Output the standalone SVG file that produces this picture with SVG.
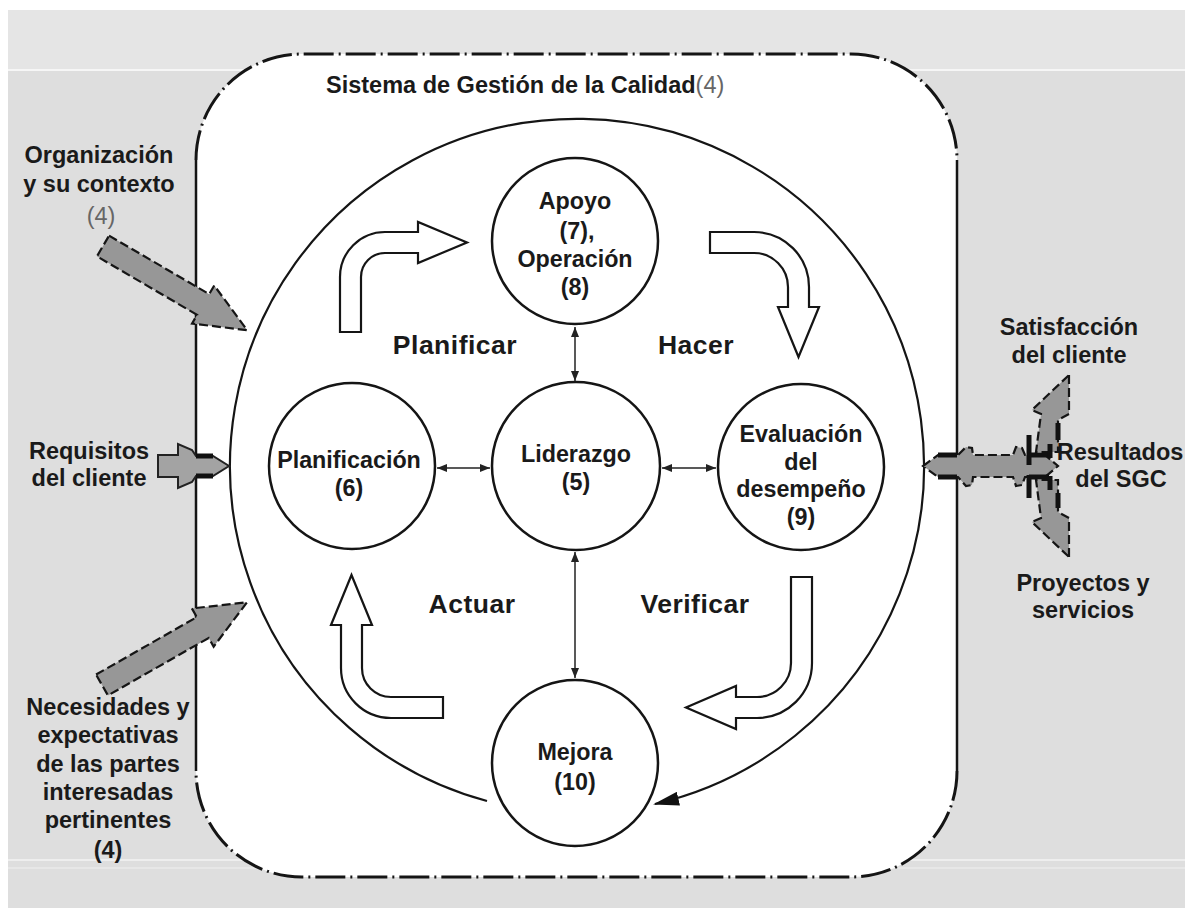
<svg xmlns="http://www.w3.org/2000/svg" width="1185" height="908" viewBox="0 0 1185 908">
  <style>
    .t { font-family: "Liberation Sans", Arial, sans-serif; font-weight: bold; fill: #1a1a1a; text-anchor: middle; }
    .n { font-size: 23.3px; }
    .s { font-size: 23.5px; }
    .ph { font-size: 26.5px; letter-spacing: 0.5px; }
    .gr { font-weight: normal; fill: #666; }
    .node { fill: #fff; stroke: #151515; stroke-width: 2.5; }
    .hollow { fill: #fff; stroke: #151515; stroke-width: 2.2; stroke-linejoin: miter; }
    .gray { fill: #979797; stroke: #151515; stroke-width: 2.2; stroke-dasharray: 9 4; }
    .blk { stroke: #111; stroke-width: 5; fill: none; }
    .dd { fill: none; stroke: #151515; stroke-width: 3; stroke-dasharray: 30 5 2 5; }
    .sol { fill: none; stroke: #151515; stroke-width: 2.5; }
    .link { stroke: #222; stroke-width: 1.5; marker-start: url(#ah); marker-end: url(#ah); }
  </style>
  <defs>
    <marker id="ah" viewBox="0 0 10 8" refX="10" refY="4" markerWidth="10" markerHeight="8" markerUnits="userSpaceOnUse" orient="auto-start-reverse">
      <path d="M0,0 L10,4 L0,8 Z" fill="#222"/>
    </marker>
    <marker id="big" viewBox="0 0 26 14" refX="24" refY="7" markerWidth="26" markerHeight="14" markerUnits="userSpaceOnUse" orient="auto">
      <path d="M0,0 L26,7 L0,14 Z" fill="#111"/>
    </marker>
  </defs>

  <!-- background -->
  <rect x="0" y="0" width="1185" height="908" fill="#ffffff"/>
  <rect x="8" y="10" width="1177" height="898" fill="#dedede"/>
  <rect x="8" y="10" width="1177" height="60" fill="#e5e5e5"/>
  <line x1="8" y1="70" x2="1185" y2="70" stroke="#f6f6f6" stroke-width="2"/>
  <line x1="8" y1="860" x2="1185" y2="860" stroke="#f3f3f3" stroke-width="1.5"/>
  <line x1="8" y1="868" x2="1185" y2="868" stroke="#f0f0f0" stroke-width="1"/>

  <!-- quality management system boundary -->
  <g id="sgc">
    <rect x="196" y="54" width="761" height="823" rx="106" ry="106" fill="#ffffff"/>
    <path class="sol" d="M196,160 L196,771"/>
    <path class="sol" d="M957,160 L957,771"/>
    <path class="dd" d="M196,160 A106,106 0 0 1 302,54 L851,54 A106,106 0 0 1 957,160"/>
    <path class="dd" d="M957,771 A106,106 0 0 1 851,877 L302,877 A106,106 0 0 1 196,771"/>
    <text class="t" x="326" y="93" font-size="23.5" style="text-anchor:start">Sistema de Gestión de la Calidad<tspan class="gr">(4)</tspan></text>
  </g>

  <!-- big cycle -->
  <g id="cycle">
    <path d="M487,801 A347,347 0 1 1 655,804" fill="none" stroke="#151515" stroke-width="2.2" marker-end="url(#big)"/>
  </g>

  <!-- PDCA hollow arrows -->
  <g id="pdca-arrows">
    <path class="hollow" d="M340,332 L340,277 A45,45 0 0 1 385,232 L418,232 L418,222 L467,242.5 L418,263 L418,253 L385,253 A24,24 0 0 0 361,277 L361,332 Z"/>
    <path class="hollow" d="M710,232 L754,232 A55,55 0 0 1 809,287 L809,307 L819,307 L798.5,357 L778,307 L788,307 L788,287 A34,34 0 0 0 754,253 L710,253 Z"/>
    <path class="hollow" d="M791,577 L812,577 L812,663 A55,55 0 0 1 757,718 L736,718 L736,729 L686,707.5 L736,686 L736,697 L757,697 A34,34 0 0 0 791,663 Z"/>
    <path class="hollow" d="M443,697 L391,697 A29,29 0 0 1 362,668 L362,625 L372,625 L351.5,575 L331,625 L341,625 L341,668 A50,50 0 0 0 391,718 L443,718 Z"/>
  </g>

  <!-- connectors between nodes -->
  <g id="connectors">
    <line class="link" x1="575" y1="327" x2="575" y2="381"/>
    <line class="link" x1="437" y1="468" x2="490" y2="468"/>
    <line class="link" x1="662" y1="468" x2="716" y2="468"/>
    <line class="link" x1="575" y1="552" x2="575" y2="678"/>
  </g>

  <!-- nodes -->
  <g id="apoyo">
    <circle class="node" cx="575" cy="241" r="83"/>
    <text class="t n" x="575" y="209">Apoyo</text>
    <text class="t n" x="577" y="239">(7),</text>
    <text class="t n" x="575" y="267">Operación</text>
    <text class="t n" x="575" y="295">(8)</text>
  </g>
  <g id="planificacion">
    <circle class="node" cx="352" cy="466" r="83"/>
    <text class="t n" x="349" y="468">Planificación</text>
    <text class="t n" x="349" y="496">(6)</text>
  </g>
  <g id="liderazgo">
    <circle class="node" cx="576" cy="466" r="84"/>
    <text class="t n" x="576" y="462">Liderazgo</text>
    <text class="t n" x="576" y="490">(5)</text>
  </g>
  <g id="evaluacion">
    <circle class="node" cx="801" cy="467" r="83"/>
    <text class="t n" x="801" y="442">Evaluación</text>
    <text class="t n" x="801" y="470">del</text>
    <text class="t n" x="801" y="497">desempeño</text>
    <text class="t n" x="801" y="525">(9)</text>
  </g>
  <g id="mejora">
    <circle class="node" cx="575" cy="763" r="83"/>
    <text class="t n" x="575" y="760">Mejora</text>
    <text class="t n" x="575" y="790">(10)</text>
  </g>

  <!-- phase labels -->
  <g id="phases">
    <text class="t ph" x="455" y="354">Planificar</text>
    <text class="t ph" x="696" y="354">Hacer</text>
    <text class="t ph" x="472" y="613">Actuar</text>
    <text class="t ph" x="695" y="613">Verificar</text>
  </g>

  <!-- inputs -->
  <g id="input-contexto">
    <text class="t s" x="99" y="163">Organización</text>
    <text class="t s" x="99" y="192">y su contexto</text>
    <text class="t s gr" x="101" y="224" font-size="20">(4)</text>
    <polygon class="gray" transform="translate(103,246) rotate(30.3)" points="0,-12 116,-12 116,-22 167,0 116,22 116,12 0,12"/>
  </g>
  <g id="input-requisitos">
    <text class="t s" x="89" y="459">Requisitos</text>
    <text class="t s" x="89" y="486">del cliente</text>
    <polygon fill="#a3a3a3" stroke="#222" stroke-width="2" points="158,455 178,455 178,444 192,450 196,456 213,456 229,466 213,476 196,476 192,482 178,488 178,477 158,477"/>
    <line class="blk" x1="196" y1="456" x2="213" y2="456"/>
    <line class="blk" x1="196" y1="476" x2="213" y2="476"/>
  </g>
  <g id="input-partes">
    <polygon class="gray" transform="translate(102,685) rotate(-29.7)" points="0,-12 116,-12 116,-22 167,0 116,22 116,12 0,12"/>
    <text class="t s" x="108" y="715">Necesidades y</text>
    <text class="t s" x="108" y="743">expectativas</text>
    <text class="t s" x="108" y="772">de las partes</text>
    <text class="t s" x="108" y="800">interesadas</text>
    <text class="t s" x="108" y="828">pertinentes</text>
    <text class="t s" x="108" y="858">(4)</text>
  </g>

  <!-- outputs -->
  <g id="output-resultados">
    <polygon class="gray" points="1069,375 1069,414 1058,420 1058,452 1036,452 1041,414 1032,410"/>
    <polygon class="gray" points="1069,557 1069,518 1058,512 1058,480 1036,480 1041,518 1032,522"/>
    <polygon class="gray" fill="#a0a0a0" points="923,466 938,455 958,455 966,447 972,448 973,455 1013,455 1016,447 1022,448 1025,455 1045,455 1058,466 1045,477 1025,477 1022,485 1016,486 1013,477 973,477 972,485 966,486 958,477 938,477"/>
    <line class="blk" x1="938" y1="455" x2="957" y2="455"/>
    <line class="blk" x1="938" y1="477" x2="957" y2="477"/>
    <line class="blk" x1="1029" y1="435" x2="1029" y2="465"/>
    <line class="blk" x1="1029" y1="475" x2="1029" y2="498"/>
    <line class="blk" x1="1029" y1="455" x2="1049" y2="455"/>
    <line class="blk" x1="1029" y1="477" x2="1049" y2="477"/>
    <line class="blk" x1="1050" y1="444" x2="1050" y2="458"/>
    <line class="blk" x1="1050" y1="476" x2="1050" y2="490"/>
    <line class="blk" x1="1058" y1="423" x2="1058" y2="440"/>
    <line class="blk" x1="1058" y1="493" x2="1058" y2="508"/>
    <text class="t s" x="1069" y="335">Satisfacción</text>
    <text class="t s" x="1069" y="363">del cliente</text>
    <text class="t s" x="1120" y="460">Resultados</text>
    <text class="t s" x="1121" y="487">del SGC</text>
    <text class="t s" x="1083" y="591">Proyectos y</text>
    <text class="t s" x="1083" y="618">servicios</text>
  </g>
</svg>
